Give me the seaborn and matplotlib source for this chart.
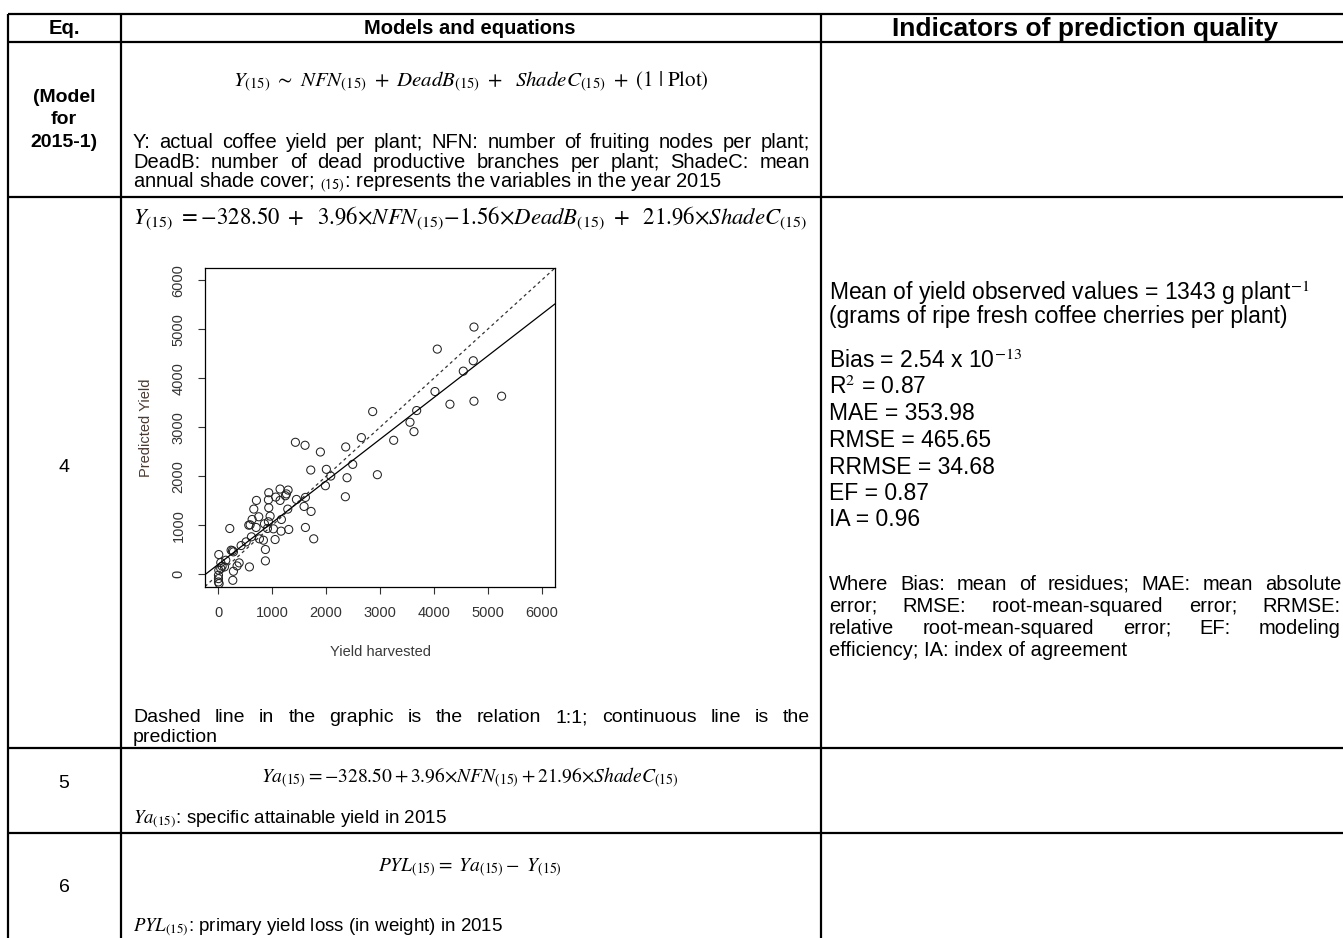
import matplotlib
matplotlib.use("Agg")
import matplotlib.pyplot as plt
import seaborn as sns

# values (observed vs predicted yield, g plant-1)
yield_harvested = [4745, 4064, 4732, 4547, 4021, 4299, 4745, 5258, 3681, 3557,
                   3631, 2864, 2654, 3254, 2363, 1429, 1608, 1893, 2493, 2004,
                   1714, 2085, 2388, 2951, 1986, 2357, 1448, 1615, 1590, 1720,
                   1615, 1769, 1287, 1293, 1144, 1243, 1262, 1064, 1144, 934,
                   928, 934, 959, 1169, 1163, 1305, 1021, 1052, 909, 854,
                   928, 835, 872, 872, 705, 656, 699, 748, 761, 625,
                   563, 588, 612, 513, 421, 210, 235, 278, 260, 278,
                   266, 575, 384, 346, 136, 6, 43, 68, 111, 6,
                   0, 0, 0, 12, 43]
predicted_yield = [5045, 4595, 4357, 4145, 3729, 3470, 3532, 3634, 3341, 3102,
                   2911, 3320, 2789, 2734, 2598, 2693, 2632, 2495, 2243, 2141,
                   2127, 2004, 1970, 2032, 1807, 1582, 1527, 1568, 1384, 1282,
                   955, 723, 1330, 1718, 1739, 1602, 1640, 1575, 1507, 1664,
                   1520, 1357, 1186, 1118, 880, 914, 927, 709, 934, 1030,
                   1071, 695, 505, 273, 1507, 1330, 955, 1173, 723, 1118,
                   1002, 1009, 764, 661, 586, 934, 491, 457, 480, 61,
                   -123, 150, 232, 170, 286, 402, 239, 164, 150, 82,
                   -20, -89, -157, -191, 116]
fit_intercept = 205
fit_slope = 0.85
axis_ticks = [0, 1000, 2000, 3000, 4000, 5000, 6000]

eq_labels = ["(Model\nfor\n2015-1)", "4", "5", "6"]
headers = ["Eq.", "Models and equations", "Indicators of prediction quality"]
mean_lines = ["Mean of yield observed values = 1343 g plant$^{-1}$",
              "(grams of ripe fresh coffee cherries per plant)"]
indicator_lines = ["Bias = 2.54 x 10$^{-13}$", "R$^{2}$ = 0.87", "MAE = 353.98",
                   "RMSE = 465.65", "RRMSE = 34.68", "EF = 0.87", "IA = 0.96"]
where_lines = ["Where Bias: mean of residues; MAE: mean absolute",
               "error; RMSE: root-mean-squared error; RRMSE:",
               "relative root-mean-squared error; EF: modeling",
               "efficiency; IA: index of agreement"]
model_lines = ["Y: actual coffee yield per plant; NFN: number of fruiting nodes per plant;",
               "DeadB: number of dead productive branches per plant; ShadeC: mean",
               r"annual shade cover; $_{\mathsf{(15)}}$: represents the variables in the year 2015"]
graph_note = ["Dashed line in the graphic is the relation 1:1; continuous line is the",
              "prediction"]

sns.set_style("white")
plt.rcParams['font.family'] = ['Liberation Sans', 'DejaVu Sans']
plt.rcParams['mathtext.fontset'] = 'stix'
plt.rcParams['text.color'] = 'black'

fig = plt.figure(figsize=(13.43, 9.38), dpi=100)
tab = fig.add_axes([0, 0, 1, 1])
tab.set_xlim(0, 1343)
tab.set_ylim(938, 0)
tab.axis('off')
rend = fig.canvas.get_renderer()

# table grid
lw = 1.6
for y in [14, 42, 197, 748, 833]:
    tab.plot([8, 1343], [y, y], color='black', lw=lw, solid_capstyle='butt')
for x in [8, 121, 821]:
    tab.plot([x, x], [14, 938], color='black', lw=lw, solid_capstyle='butt')


def justify(words_text, x0, x1, y, **kw):
    words = words_text.split()
    ts = [tab.text(0, y, w, va='center', ha='left', **kw) for w in words]
    widths = [t.get_window_extent(rend).width for t in ts]
    gap = (x1 - x0 - sum(widths)) / (len(words) - 1)
    x = x0
    for t, w in zip(ts, widths):
        t.set_x(x)
        x += w + gap


# headers
tab.text(64, 28, headers[0], ha='center', va='center', fontsize=14.5, fontweight='bold')
tab.text(470, 28, headers[1], ha='center', va='center', fontsize=14.5, fontweight='bold')
tab.text(1085, 29, headers[2], ha='center', va='center', fontsize=19, fontweight='bold')

# Eq column
tab.text(64, 120, eq_labels[0], ha='center', va='center', fontsize=14, fontweight='bold',
         linespacing=1.45)
tab.text(64, 467, eq_labels[1], ha='center', va='center', fontsize=14)
tab.text(64, 783, eq_labels[2], ha='center', va='center', fontsize=14)
tab.text(64, 888, eq_labels[3], ha='center', va='center', fontsize=14)

# row 1
tab.text(471, 82, r"$Y_{(15)}\ \sim\ NFN_{(15)}\ +\ DeadB_{(15)}\ +\ \ ShadeC_{(15)}\ +\ (1\ |\ \mathrm{Plot})$",
         ha='center', va='center', fontsize=15)
justify(model_lines[0], 133, 810, 143, fontsize=14.5)
justify(model_lines[1], 133, 810, 163, fontsize=14.5)
tab.text(133, 183, model_lines[2], ha='left', va='center', fontsize=14.5)

# row 4
tab.text(133, 218, r"$Y_{(15)}\ =-328.50\ +\ \ 3.96{\times}NFN_{(15)}{-}1.56{\times}DeadB_{(15)}\ +\ \ 21.96{\times}ShadeC_{(15)}$",
         ha='left', va='center', fontsize=16.4)
justify(graph_note[0], 133, 810, 718, fontsize=14)
tab.text(133, 737, graph_note[1], ha='left', va='center', fontsize=14)

# row 5 and 6
tab.text(470, 778, r"$Ya_{(15)}=-328.50+3.96{\times}NFN_{(15)}+21.96{\times}ShadeC_{(15)}$",
         ha='center', va='center', fontsize=14)
tab.text(133, 819, r"$Ya_{(15)}$: specific attainable yield in 2015", ha='left', va='center',
         fontsize=13.5)
tab.text(470, 868, r"$PYL_{(15)}=\ Ya_{(15)}-\ Y_{(15)}$", ha='center', va='center', fontsize=14)
tab.text(133, 927, r"$PYL_{(15)}$: primary yield loss (in weight) in 2015", ha='left',
         va='center', fontsize=13.5)

# indicators column
tab.text(829, 293, mean_lines[0], ha='left', va='center', fontsize=16.5)
tab.text(829, 317, mean_lines[1], ha='left', va='center', fontsize=16.5)
for i, s in enumerate(indicator_lines):
    tab.text(829, 361 + i * 26.5, s, ha='left', va='center', fontsize=16.5)
for i, s in enumerate(where_lines):
    if i < len(where_lines) - 1:
        justify(s, 829, 1341, 584 + i * 22, fontsize=14.5)
    else:
        tab.text(829, 584 + i * 22, s, ha='left', va='center', fontsize=14.5)

# embedded scatter plot (R style)
ax = fig.add_axes([205 / 1343, 1 - 587 / 938, 350 / 1343, 319 / 938])
sns.scatterplot(x=yield_harvested, y=predicted_yield, ax=ax, marker='o', s=34,
                facecolors='none', edgecolor='#222222', linewidth=0.75)
ax.axline((0, 0), slope=1, color='#333333', lw=0.9, linestyle=(0, (2.5, 2.5)))
ax.axline((0, fit_intercept), slope=fit_slope, color='black', lw=0.9)
ax.set_xlim(-250, 6250)
ax.set_ylim(-260, 6250)
ax.set_xticks(axis_ticks)
ax.set_yticks(axis_ticks)
for sp in ax.spines.values():
    sp.set_visible(True)
    sp.set_color('black')
    sp.set_linewidth(0.9)
ax.tick_params(axis='both', direction='out', length=5, width=0.8, color='#333333',
               labelsize=10.5, labelcolor='#333333', bottom=True, left=True, pad=9)
ax.tick_params(axis='y', labelrotation=90, pad=9)
for lab in ax.get_yticklabels():
    lab.set_va('center')
ax.set_xlabel("Yield harvested", fontsize=10.5, color='#3a3a3a', labelpad=18)
ax.set_ylabel("Predicted Yield", fontsize=10.5, color='#4a3a30', labelpad=13)

fig.savefig("out.png", dpi=100)
